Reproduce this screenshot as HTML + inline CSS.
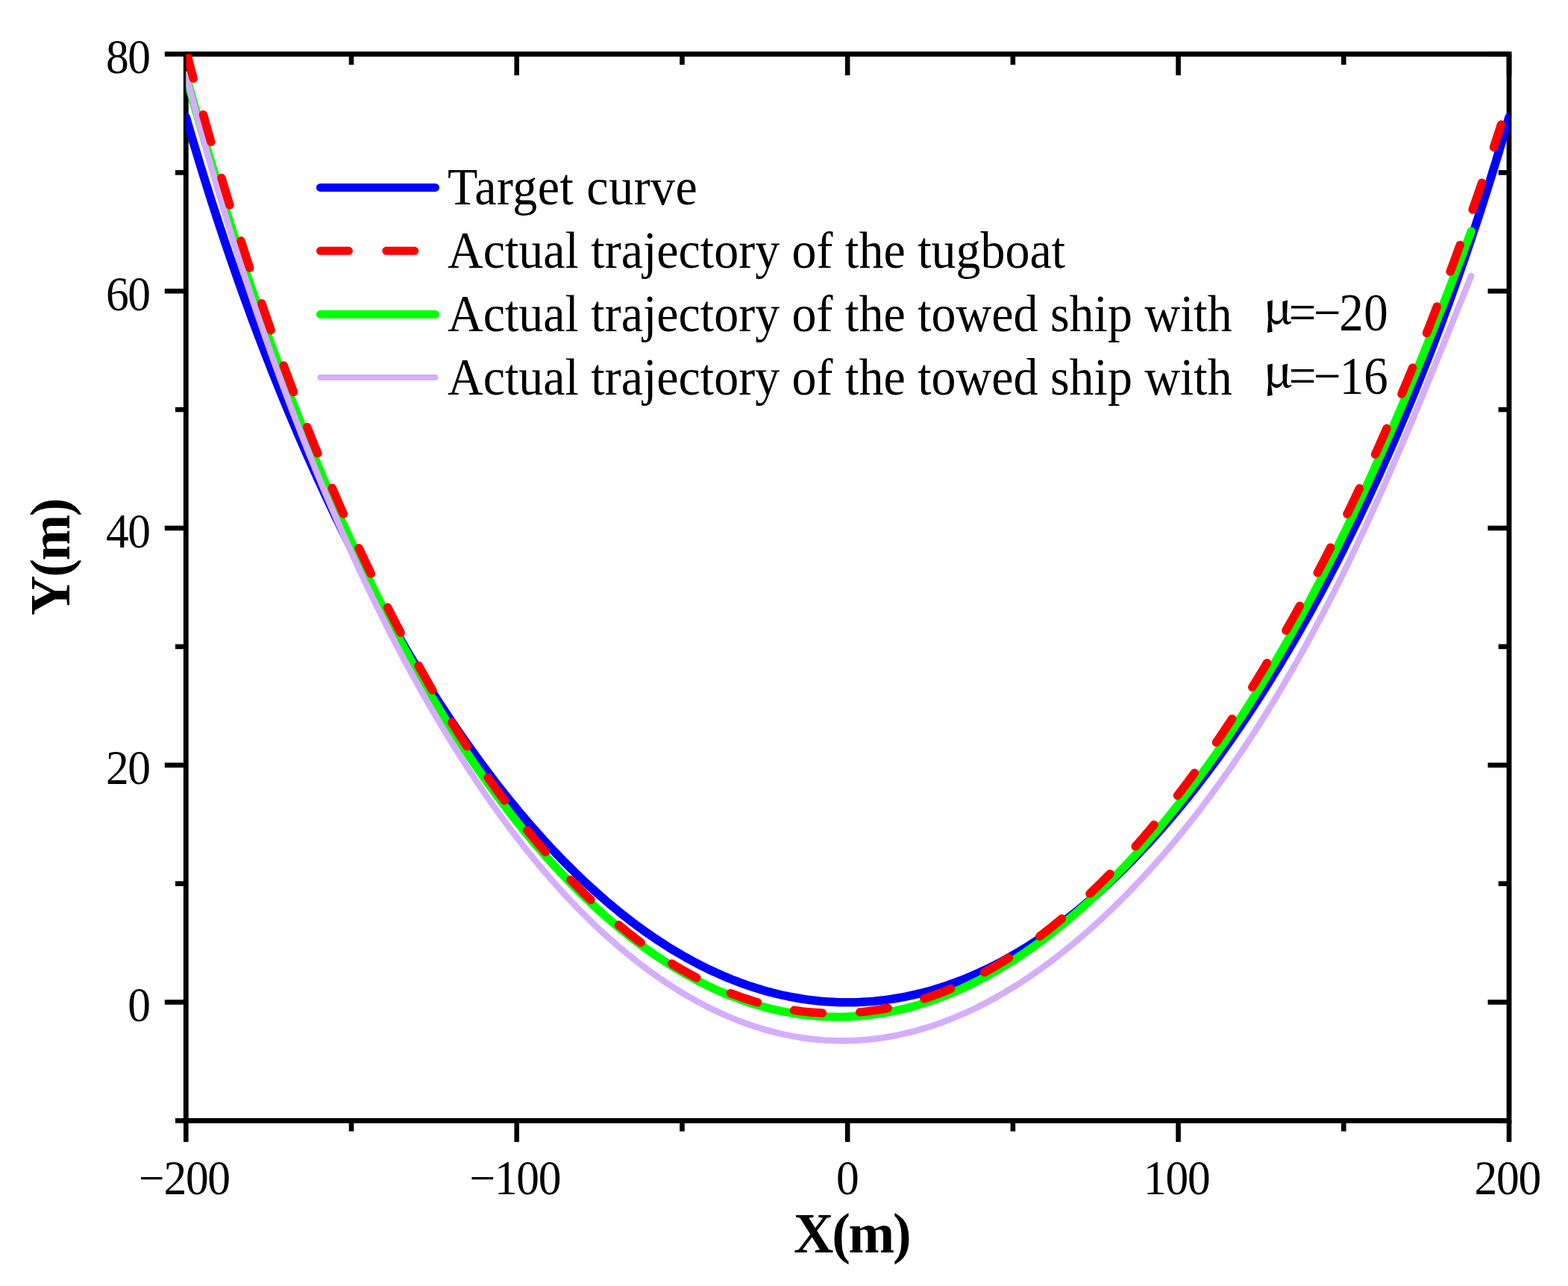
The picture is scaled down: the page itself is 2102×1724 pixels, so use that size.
<!DOCTYPE html><html><head><meta charset="utf-8"><style>html,body{margin:0;padding:0;background:#fff;overflow:hidden}svg{display:block}</style></head><body>
<svg width="2102" height="1724" viewBox="0 0 2102 1724">
<rect width="2102" height="1724" fill="#fff"/>
<defs><clipPath id="cp"><rect x="249.30" y="72.50" width="1773.72" height="1429.88"/></clipPath></defs>
<g stroke="#000" stroke-width="6.8" fill="none" stroke-linecap="square">
<rect x="249.30" y="72.50" width="1773.72" height="1429.88"/>
</g>
<g stroke="#000" stroke-width="6.6" fill="none">
<line x1="249.30" y1="1502.38" x2="249.30" y2="1530.88"/>
<line x1="249.30" y1="72.50" x2="249.30" y2="101.00"/>
<line x1="471.02" y1="1502.38" x2="471.02" y2="1516.67"/>
<line x1="471.02" y1="72.50" x2="471.02" y2="86.80"/>
<line x1="692.73" y1="1502.38" x2="692.73" y2="1530.88"/>
<line x1="692.73" y1="72.50" x2="692.73" y2="101.00"/>
<line x1="914.45" y1="1502.38" x2="914.45" y2="1516.67"/>
<line x1="914.45" y1="72.50" x2="914.45" y2="86.80"/>
<line x1="1136.16" y1="1502.38" x2="1136.16" y2="1530.88"/>
<line x1="1136.16" y1="72.50" x2="1136.16" y2="101.00"/>
<line x1="1357.88" y1="1502.38" x2="1357.88" y2="1516.67"/>
<line x1="1357.88" y1="72.50" x2="1357.88" y2="86.80"/>
<line x1="1579.59" y1="1502.38" x2="1579.59" y2="1530.88"/>
<line x1="1579.59" y1="72.50" x2="1579.59" y2="101.00"/>
<line x1="1801.31" y1="1502.38" x2="1801.31" y2="1516.67"/>
<line x1="1801.31" y1="72.50" x2="1801.31" y2="86.80"/>
<line x1="2023.02" y1="1502.38" x2="2023.02" y2="1530.88"/>
<line x1="2023.02" y1="72.50" x2="2023.02" y2="101.00"/>
<line x1="249.30" y1="1502.38" x2="235.00" y2="1502.38"/>
<line x1="2023.02" y1="1502.38" x2="2008.72" y2="1502.38"/>
<line x1="249.30" y1="1343.50" x2="220.80" y2="1343.50"/>
<line x1="2023.02" y1="1343.50" x2="1994.52" y2="1343.50"/>
<line x1="249.30" y1="1184.62" x2="235.00" y2="1184.62"/>
<line x1="2023.02" y1="1184.62" x2="2008.72" y2="1184.62"/>
<line x1="249.30" y1="1025.75" x2="220.80" y2="1025.75"/>
<line x1="2023.02" y1="1025.75" x2="1994.52" y2="1025.75"/>
<line x1="249.30" y1="866.88" x2="235.00" y2="866.88"/>
<line x1="2023.02" y1="866.88" x2="2008.72" y2="866.88"/>
<line x1="249.30" y1="708.00" x2="220.80" y2="708.00"/>
<line x1="2023.02" y1="708.00" x2="1994.52" y2="708.00"/>
<line x1="249.30" y1="549.12" x2="235.00" y2="549.12"/>
<line x1="2023.02" y1="549.12" x2="2008.72" y2="549.12"/>
<line x1="249.30" y1="390.25" x2="220.80" y2="390.25"/>
<line x1="2023.02" y1="390.25" x2="1994.52" y2="390.25"/>
<line x1="249.30" y1="231.38" x2="235.00" y2="231.38"/>
<line x1="2023.02" y1="231.38" x2="2008.72" y2="231.38"/>
<line x1="249.30" y1="72.50" x2="220.80" y2="72.50"/>
<line x1="2023.02" y1="72.50" x2="1994.52" y2="72.50"/>
</g>
<text transform="translate(246.95,1601) scale(1.0,1.048)" text-anchor="middle" font-family="Liberation Serif, Times New Roman, serif" font-size="61.5" letter-spacing="-1.3">−200</text>
<text transform="translate(690.38,1601) scale(1.0,1.048)" text-anchor="middle" font-family="Liberation Serif, Times New Roman, serif" font-size="61.5" letter-spacing="-1.3">−100</text>
<text transform="translate(1135.81,1601) scale(1.0,1.048)" text-anchor="middle" font-family="Liberation Serif, Times New Roman, serif" font-size="61.5" letter-spacing="-1.3">0</text>
<text transform="translate(1577.24,1601) scale(1.0,1.048)" text-anchor="middle" font-family="Liberation Serif, Times New Roman, serif" font-size="61.5" letter-spacing="-1.3">100</text>
<text transform="translate(2020.67,1601) scale(1.0,1.048)" text-anchor="middle" font-family="Liberation Serif, Times New Roman, serif" font-size="61.5" letter-spacing="-1.3">200</text>
<text transform="translate(200.80,1369.00) scale(1.0,1.048)" text-anchor="end" font-family="Liberation Serif, Times New Roman, serif" font-size="61.5" letter-spacing="-1.3">0</text>
<text transform="translate(200.80,1051.25) scale(1.0,1.048)" text-anchor="end" font-family="Liberation Serif, Times New Roman, serif" font-size="61.5" letter-spacing="-1.3">20</text>
<text transform="translate(200.80,733.50) scale(1.0,1.048)" text-anchor="end" font-family="Liberation Serif, Times New Roman, serif" font-size="61.5" letter-spacing="-1.3">40</text>
<text transform="translate(200.80,415.75) scale(1.0,1.048)" text-anchor="end" font-family="Liberation Serif, Times New Roman, serif" font-size="61.5" letter-spacing="-1.3">60</text>
<text transform="translate(200.80,98.00) scale(1.0,1.048)" text-anchor="end" font-family="Liberation Serif, Times New Roman, serif" font-size="61.5" letter-spacing="-1.3">80</text>
<text transform="translate(1141.7,1679) scale(1,1.02)" text-anchor="middle" font-family="Liberation Serif, Times New Roman, serif" font-weight="bold" font-size="74" letter-spacing="-2.3">X(m)</text>
<text transform="translate(93,747.4) rotate(-90) scale(1,1.02)" text-anchor="middle" font-family="Liberation Serif, Times New Roman, serif" font-weight="bold" font-size="74" letter-spacing="-2.3">Y(m)</text>
<g clip-path="url(#cp)" fill="none" stroke-linejoin="round">
<path d="M249.30,157.06 L253.75,172.30 L258.19,187.35 L262.64,202.20 L267.08,216.86 L271.53,231.33 L275.97,245.61 L280.42,259.71 L284.86,273.63 L289.31,287.38 L293.75,300.97 L298.20,314.38 L302.64,327.63 L307.09,340.73 L311.54,353.66 L315.98,366.45 L320.43,379.08 L324.87,391.57 L329.32,403.92 L333.76,416.12 L338.21,428.18 L342.65,440.11 L347.10,451.91 L351.54,463.57 L355.99,475.11 L360.44,486.52 L364.88,497.81 L369.33,508.98 L373.77,520.03 L378.22,530.96 L382.66,541.77 L387.11,552.47 L391.55,563.07 L396.00,573.55 L400.44,583.92 L404.89,594.19 L409.33,604.36 L413.78,614.42 L418.23,624.38 L422.67,634.24 L427.12,644.00 L431.56,653.67 L436.01,663.24 L440.45,672.72 L444.90,682.11 L449.34,691.40 L453.79,700.61 L458.23,709.72 L462.68,718.75 L467.13,727.69 L471.57,736.55 L476.02,745.32 L480.46,754.01 L484.91,762.61 L489.35,771.13 L493.80,779.58 L498.24,787.94 L502.69,796.22 L507.13,804.43 L511.58,812.55 L516.02,820.60 L520.47,828.58 L524.92,836.48 L529.36,844.30 L533.81,852.05 L538.25,859.73 L542.70,867.33 L547.14,874.87 L551.59,882.33 L556.03,889.72 L560.48,897.04 L564.92,904.28 L569.37,911.46 L573.82,918.57 L578.26,925.62 L582.71,932.59 L587.15,939.50 L591.60,946.33 L596.04,953.11 L600.49,959.81 L604.93,966.45 L609.38,973.02 L613.82,979.53 L618.27,985.98 L622.71,992.35 L627.16,998.67 L631.61,1004.92 L636.05,1011.11 L640.50,1017.23 L644.94,1023.29 L649.39,1029.28 L653.83,1035.22 L658.28,1041.09 L662.72,1046.90 L667.17,1052.65 L671.61,1058.34 L676.06,1063.96 L680.51,1069.53 L684.95,1075.03 L689.40,1080.47 L693.84,1085.85 L698.29,1091.18 L702.73,1096.44 L707.18,1101.64 L711.62,1106.78 L716.07,1111.86 L720.51,1116.89 L724.96,1121.85 L729.40,1126.76 L733.85,1131.60 L738.30,1136.39 L742.74,1141.12 L747.19,1145.79 L751.63,1150.41 L756.08,1154.96 L760.52,1159.46 L764.97,1163.90 L769.41,1168.28 L773.86,1172.61 L778.30,1176.88 L782.75,1181.09 L787.20,1185.25 L791.64,1189.34 L796.09,1193.38 L800.53,1197.37 L804.98,1201.30 L809.42,1205.17 L813.87,1208.99 L818.31,1212.75 L822.76,1216.45 L827.20,1220.10 L831.65,1223.70 L836.09,1227.24 L840.54,1230.72 L844.99,1234.15 L849.43,1237.52 L853.88,1240.84 L858.32,1244.11 L862.77,1247.31 L867.21,1250.47 L871.66,1253.57 L876.10,1256.62 L880.55,1259.61 L884.99,1262.55 L889.44,1265.43 L893.88,1268.26 L898.33,1271.04 L902.78,1273.76 L907.22,1276.43 L911.67,1279.05 L916.11,1281.61 L920.56,1284.12 L925.00,1286.58 L929.45,1288.99 L933.89,1291.34 L938.34,1293.64 L942.78,1295.88 L947.23,1298.08 L951.68,1300.22 L956.12,1302.31 L960.57,1304.34 L965.01,1306.33 L969.46,1308.26 L973.90,1310.14 L978.35,1311.97 L982.79,1313.75 L987.24,1315.47 L991.68,1317.15 L996.13,1318.77 L1000.57,1320.34 L1005.02,1321.86 L1009.47,1323.33 L1013.91,1324.74 L1018.36,1326.11 L1022.80,1327.42 L1027.25,1328.69 L1031.69,1329.90 L1036.14,1331.06 L1040.58,1332.17 L1045.03,1333.23 L1049.47,1334.24 L1053.92,1335.20 L1058.37,1336.10 L1062.81,1336.96 L1067.26,1337.77 L1071.70,1338.52 L1076.15,1339.23 L1080.59,1339.88 L1085.04,1340.48 L1089.48,1341.04 L1093.93,1341.54 L1098.37,1341.99 L1102.82,1342.40 L1107.26,1342.75 L1111.71,1343.05 L1116.16,1343.30 L1120.60,1343.50 L1125.05,1343.65 L1129.49,1343.75 L1133.94,1343.80 L1138.38,1343.80 L1142.83,1343.75 L1147.27,1343.65 L1151.72,1343.50 L1156.16,1343.30 L1160.61,1343.05 L1165.06,1342.75 L1169.50,1342.40 L1173.95,1341.99 L1178.39,1341.54 L1182.84,1341.04 L1187.28,1340.48 L1191.73,1339.88 L1196.17,1339.23 L1200.62,1338.52 L1205.06,1337.77 L1209.51,1336.96 L1213.95,1336.10 L1218.40,1335.20 L1222.85,1334.24 L1227.29,1333.23 L1231.74,1332.17 L1236.18,1331.06 L1240.63,1329.90 L1245.07,1328.69 L1249.52,1327.42 L1253.96,1326.11 L1258.41,1324.74 L1262.85,1323.33 L1267.30,1321.86 L1271.75,1320.34 L1276.19,1318.77 L1280.64,1317.15 L1285.08,1315.47 L1289.53,1313.75 L1293.97,1311.97 L1298.42,1310.14 L1302.86,1308.26 L1307.31,1306.33 L1311.75,1304.34 L1316.20,1302.31 L1320.64,1300.22 L1325.09,1298.08 L1329.54,1295.88 L1333.98,1293.64 L1338.43,1291.34 L1342.87,1288.99 L1347.32,1286.58 L1351.76,1284.12 L1356.21,1281.61 L1360.65,1279.05 L1365.10,1276.43 L1369.54,1273.76 L1373.99,1271.04 L1378.44,1268.26 L1382.88,1265.43 L1387.33,1262.55 L1391.77,1259.61 L1396.22,1256.62 L1400.66,1253.57 L1405.11,1250.47 L1409.55,1247.31 L1414.00,1244.11 L1418.44,1240.84 L1422.89,1237.52 L1427.33,1234.15 L1431.78,1230.72 L1436.23,1227.24 L1440.67,1223.70 L1445.12,1220.10 L1449.56,1216.45 L1454.01,1212.75 L1458.45,1208.99 L1462.90,1205.17 L1467.34,1201.30 L1471.79,1197.37 L1476.23,1193.38 L1480.68,1189.34 L1485.12,1185.25 L1489.57,1181.09 L1494.02,1176.88 L1498.46,1172.61 L1502.91,1168.28 L1507.35,1163.90 L1511.80,1159.46 L1516.24,1154.96 L1520.69,1150.41 L1525.13,1145.79 L1529.58,1141.12 L1534.02,1136.39 L1538.47,1131.60 L1542.92,1126.76 L1547.36,1121.85 L1551.81,1116.89 L1556.25,1111.86 L1560.70,1106.78 L1565.14,1101.64 L1569.59,1096.44 L1574.03,1091.18 L1578.48,1085.85 L1582.92,1080.47 L1587.37,1075.03 L1591.81,1069.53 L1596.26,1063.96 L1600.71,1058.34 L1605.15,1052.65 L1609.60,1046.90 L1614.04,1041.09 L1618.49,1035.22 L1622.93,1029.28 L1627.38,1023.29 L1631.82,1017.23 L1636.27,1011.11 L1640.71,1004.92 L1645.16,998.67 L1649.61,992.35 L1654.05,985.98 L1658.50,979.53 L1662.94,973.02 L1667.39,966.45 L1671.83,959.81 L1676.28,953.11 L1680.72,946.33 L1685.17,939.50 L1689.61,932.59 L1694.06,925.62 L1698.50,918.57 L1702.95,911.46 L1707.40,904.28 L1711.84,897.04 L1716.29,889.72 L1720.73,882.33 L1725.18,874.87 L1729.62,867.33 L1734.07,859.73 L1738.51,852.05 L1742.96,844.30 L1747.40,836.48 L1751.85,828.58 L1756.30,820.60 L1760.74,812.55 L1765.19,804.43 L1769.63,796.22 L1774.08,787.94 L1778.52,779.58 L1782.97,771.13 L1787.41,762.61 L1791.86,754.01 L1796.30,745.32 L1800.75,736.55 L1805.19,727.69 L1809.64,718.75 L1814.09,709.72 L1818.53,700.61 L1822.98,691.40 L1827.42,682.11 L1831.87,672.72 L1836.31,663.24 L1840.76,653.67 L1845.20,644.00 L1849.65,634.24 L1854.09,624.38 L1858.54,614.42 L1862.99,604.36 L1867.43,594.19 L1871.88,583.92 L1876.32,573.55 L1880.77,563.07 L1885.21,552.47 L1889.66,541.77 L1894.10,530.96 L1898.55,520.03 L1902.99,508.98 L1907.44,497.81 L1911.88,486.52 L1916.33,475.11 L1920.78,463.57 L1925.22,451.91 L1929.67,440.11 L1934.11,428.18 L1938.56,416.12 L1943.00,403.92 L1947.45,391.57 L1951.89,379.08 L1956.34,366.45 L1960.78,353.66 L1965.23,340.73 L1969.68,327.63 L1974.12,314.38 L1978.57,300.97 L1983.01,287.38 L1987.46,273.63 L1991.90,259.71 L1996.35,245.61 L2000.79,231.33 L2005.24,216.86 L2009.68,202.20 L2014.13,187.35 L2018.57,172.30 L2023.02,157.06" stroke="#0000ff" stroke-width="11.5" stroke-linecap="round"/>
<path d="M249.30,101.47 L253.62,116.78 L257.94,131.95 L262.25,146.98 L266.57,161.87 L270.89,176.62 L275.21,191.24 L279.53,205.71 L283.85,220.05 L288.16,234.26 L292.48,248.33 L296.80,262.27 L301.12,276.08 L305.44,289.76 L309.75,303.31 L314.07,316.73 L318.39,330.03 L322.71,343.20 L327.03,356.24 L331.35,369.17 L335.66,381.97 L339.98,394.65 L344.30,407.20 L348.62,419.64 L352.94,431.97 L357.25,444.17 L361.57,456.26 L365.89,468.23 L370.21,480.09 L374.53,491.83 L378.84,503.46 L383.16,514.99 L387.48,526.40 L391.80,537.70 L396.12,548.89 L400.44,559.97 L404.75,570.95 L409.07,581.82 L413.39,592.59 L417.71,603.25 L422.03,613.81 L426.34,624.26 L430.66,634.62 L434.98,644.87 L439.30,655.02 L443.62,665.08 L447.94,675.03 L452.25,684.89 L456.57,694.65 L460.89,704.32 L465.21,713.89 L469.53,723.36 L473.84,732.74 L478.16,742.03 L482.48,751.23 L486.80,760.34 L491.12,769.35 L495.44,778.28 L499.75,787.12 L504.07,795.87 L508.39,804.53 L512.71,813.10 L517.03,821.59 L521.34,829.99 L525.66,838.31 L529.98,846.54 L534.30,854.69 L538.62,862.76 L542.94,870.74 L547.25,878.65 L551.57,886.47 L555.89,894.21 L560.21,901.87 L564.53,909.46 L568.84,916.96 L573.16,924.39 L577.48,931.74 L581.80,939.01 L586.12,946.21 L590.43,953.33 L594.75,960.38 L599.07,967.35 L603.39,974.25 L607.71,981.08 L612.03,987.83 L616.34,994.51 L620.66,1001.12 L624.98,1007.66 L629.30,1014.12 L633.62,1020.52 L637.93,1026.85 L642.25,1033.10 L646.57,1039.29 L650.89,1045.41 L655.21,1051.47 L659.53,1057.45 L663.84,1063.37 L668.16,1069.22 L672.48,1075.01 L676.80,1080.73 L681.12,1086.38 L685.43,1091.97 L689.75,1097.49 L694.07,1102.95 L698.39,1108.35 L702.71,1113.69 L707.03,1118.96 L711.34,1124.16 L715.66,1129.31 L719.98,1134.39 L724.30,1139.41 L728.62,1144.37 L732.93,1149.27 L737.25,1154.11 L741.57,1158.89 L745.89,1163.61 L750.21,1168.26 L754.53,1172.86 L758.84,1177.40 L763.16,1181.88 L767.48,1186.30 L771.80,1190.66 L776.12,1194.97 L780.43,1199.21 L784.75,1203.40 L789.07,1207.53 L793.39,1211.61 L797.71,1215.62 L802.02,1219.58 L806.34,1223.48 L810.66,1227.33 L814.98,1231.12 L819.30,1234.85 L823.62,1238.53 L827.93,1242.15 L832.25,1245.72 L836.57,1249.23 L840.89,1252.69 L845.21,1256.09 L849.52,1259.43 L853.84,1262.72 L858.16,1265.96 L862.48,1269.14 L866.80,1272.27 L871.12,1275.34 L875.43,1278.36 L879.75,1281.32 L884.07,1284.23 L888.39,1287.09 L892.71,1289.89 L897.02,1292.64 L901.34,1295.34 L905.66,1297.98 L909.98,1300.57 L914.30,1303.10 L918.62,1305.59 L922.93,1308.01 L927.25,1310.39 L931.57,1312.71 L935.89,1314.99 L940.21,1317.20 L944.52,1319.37 L948.84,1321.48 L953.16,1323.54 L957.48,1325.55 L961.80,1327.50 L966.12,1329.40 L970.43,1331.25 L974.75,1333.05 L979.07,1334.80 L983.39,1336.49 L987.71,1338.13 L992.02,1339.72 L996.34,1341.25 L1000.66,1342.74 L1004.98,1344.17 L1009.30,1345.55 L1013.61,1346.88 L1017.93,1348.15 L1022.25,1349.38 L1026.57,1350.55 L1030.89,1351.67 L1035.21,1352.74 L1039.52,1353.76 L1043.84,1354.72 L1048.16,1355.63 L1052.48,1356.49 L1056.80,1357.30 L1061.11,1358.06 L1065.43,1358.77 L1069.75,1359.42 L1074.07,1360.03 L1078.39,1360.58 L1082.71,1361.08 L1087.02,1361.52 L1091.34,1361.92 L1095.66,1362.27 L1099.98,1362.56 L1104.30,1362.80 L1108.61,1362.99 L1112.93,1363.13 L1117.25,1363.22 L1121.57,1363.26 L1125.89,1363.24 L1130.21,1363.17 L1134.52,1363.06 L1138.84,1362.89 L1143.16,1362.67 L1147.48,1362.40 L1151.80,1362.07 L1156.11,1361.70 L1160.43,1361.27 L1164.75,1360.80 L1169.07,1360.27 L1173.39,1359.69 L1177.71,1359.06 L1182.02,1358.38 L1186.34,1357.65 L1190.66,1356.87 L1194.98,1356.03 L1199.30,1355.15 L1203.61,1354.22 L1207.93,1353.23 L1212.25,1352.19 L1216.57,1351.11 L1220.89,1349.97 L1225.20,1348.78 L1229.52,1347.54 L1233.84,1346.25 L1238.16,1344.91 L1242.48,1343.52 L1246.80,1342.07 L1251.11,1340.58 L1255.43,1339.04 L1259.75,1337.44 L1264.07,1335.80 L1268.39,1334.11 L1272.70,1332.36 L1277.02,1330.57 L1281.34,1328.72 L1285.66,1326.82 L1289.98,1324.88 L1294.30,1322.88 L1298.61,1320.83 L1302.93,1318.74 L1307.25,1316.59 L1311.57,1314.39 L1315.89,1312.14 L1320.20,1309.85 L1324.52,1307.50 L1328.84,1305.10 L1333.16,1302.65 L1337.48,1300.15 L1341.80,1297.61 L1346.11,1295.01 L1350.43,1292.36 L1354.75,1289.66 L1359.07,1286.91 L1363.39,1284.11 L1367.70,1281.26 L1372.02,1278.37 L1376.34,1275.42 L1380.66,1272.42 L1384.98,1269.37 L1389.30,1266.27 L1393.61,1263.12 L1397.93,1259.92 L1402.25,1256.67 L1406.57,1253.37 L1410.89,1250.01 L1415.20,1246.61 L1419.52,1243.16 L1423.84,1239.66 L1428.16,1236.10 L1432.48,1232.50 L1436.79,1228.84 L1441.11,1225.14 L1445.43,1221.38 L1449.75,1217.57 L1454.07,1213.71 L1458.39,1209.80 L1462.70,1205.84 L1467.02,1201.83 L1471.34,1197.76 L1475.66,1193.65 L1479.98,1189.48 L1484.29,1185.26 L1488.61,1180.99 L1492.93,1176.66 L1497.25,1172.28 L1501.57,1167.85 L1505.89,1163.37 L1510.20,1158.84 L1514.52,1154.25 L1518.84,1149.61 L1523.16,1144.91 L1527.48,1140.16 L1531.79,1135.36 L1536.11,1130.51 L1540.43,1125.59 L1544.75,1120.63 L1549.07,1115.61 L1553.39,1110.53 L1557.70,1105.40 L1562.02,1100.22 L1566.34,1094.98 L1570.66,1089.68 L1574.98,1084.32 L1579.29,1078.91 L1583.61,1073.45 L1587.93,1067.92 L1592.25,1062.34 L1596.57,1056.70 L1600.89,1051.00 L1605.20,1045.24 L1609.52,1039.43 L1613.84,1033.55 L1618.16,1027.62 L1622.48,1021.63 L1626.79,1015.57 L1631.11,1009.46 L1635.43,1003.28 L1639.75,997.05 L1644.07,990.75 L1648.38,984.39 L1652.70,977.96 L1657.02,971.48 L1661.34,964.93 L1665.66,958.32 L1669.98,951.64 L1674.29,944.90 L1678.61,938.10 L1682.93,931.23 L1687.25,924.29 L1691.57,917.29 L1695.88,910.22 L1700.20,903.09 L1704.52,895.89 L1708.84,888.62 L1713.16,881.28 L1717.48,873.87 L1721.79,866.40 L1726.11,858.86 L1730.43,851.24 L1734.75,843.56 L1739.07,835.81 L1743.38,827.98 L1747.70,820.09 L1752.02,812.12 L1756.34,804.09 L1760.66,795.98 L1764.98,787.80 L1769.29,779.54 L1773.61,771.22 L1777.93,762.82 L1782.25,754.34 L1786.57,745.80 L1790.88,737.18 L1795.20,728.48 L1799.52,719.71 L1803.84,710.87 L1808.16,701.95 L1812.48,692.96 L1816.79,683.89 L1821.11,674.75 L1825.43,665.53 L1829.75,656.24 L1834.07,646.87 L1838.38,637.43 L1842.70,627.91 L1847.02,618.32 L1851.34,608.66 L1855.66,598.92 L1859.98,589.10 L1864.29,579.21 L1868.61,569.25 L1872.93,559.22 L1877.25,549.11 L1881.57,538.93 L1885.88,528.68 L1890.20,518.36 L1894.52,507.96 L1898.84,497.50 L1903.16,486.97 L1907.47,476.37 L1911.79,465.70 L1916.11,454.96 L1920.43,444.16 L1924.75,433.30 L1929.07,422.37 L1933.38,411.38 L1937.70,400.33 L1942.02,389.22 L1946.34,378.05 L1950.66,366.83 L1954.97,355.55 L1959.29,344.22 L1963.61,332.84 L1967.93,321.41 L1972.25,309.93" stroke="#00ff00" stroke-width="11.2" stroke-linecap="round"/>
<path d="M249.30,99.45 L253.62,116.10 L257.94,132.50 L262.25,148.67 L266.57,164.61 L270.89,180.33 L275.21,195.84 L279.53,211.14 L283.85,226.24 L288.16,241.14 L292.48,255.85 L296.80,270.38 L301.12,284.72 L305.44,298.88 L309.75,312.88 L314.07,326.70 L318.39,340.36 L322.71,353.86 L327.03,367.20 L331.35,380.39 L335.66,393.43 L339.98,406.32 L344.30,419.07 L348.62,431.68 L352.94,444.16 L357.25,456.50 L361.57,468.71 L365.89,480.79 L370.21,492.74 L374.53,504.57 L378.84,516.28 L383.16,527.87 L387.48,539.34 L391.80,550.69 L396.12,561.94 L400.44,573.07 L404.75,584.09 L409.07,595.00 L413.39,605.81 L417.71,616.51 L422.03,627.11 L426.34,637.61 L430.66,648.00 L434.98,658.30 L439.30,668.50 L443.62,678.60 L447.94,688.61 L452.25,698.52 L456.57,708.34 L460.89,718.06 L465.21,727.70 L469.53,737.24 L473.84,746.69 L478.16,756.06 L482.48,765.34 L486.80,774.53 L491.12,783.63 L495.44,792.65 L499.75,801.58 L504.07,810.43 L508.39,819.20 L512.71,827.88 L517.03,836.48 L521.34,845.00 L525.66,853.44 L529.98,861.80 L534.30,870.08 L538.62,878.28 L542.94,886.40 L547.25,894.44 L551.57,902.40 L555.89,910.29 L560.21,918.10 L564.53,925.83 L568.84,933.49 L573.16,941.07 L577.48,948.58 L581.80,956.01 L586.12,963.37 L590.43,970.65 L594.75,977.86 L599.07,985.00 L603.39,992.07 L607.71,999.06 L612.03,1005.98 L616.34,1012.83 L620.66,1019.61 L624.98,1026.32 L629.30,1032.96 L633.62,1039.52 L637.93,1046.02 L642.25,1052.45 L646.57,1058.81 L650.89,1065.10 L655.21,1071.33 L659.53,1077.48 L663.84,1083.57 L668.16,1089.59 L672.48,1095.54 L676.80,1101.43 L681.12,1107.25 L685.43,1113.00 L689.75,1118.69 L694.07,1124.31 L698.39,1129.87 L702.71,1135.36 L707.03,1140.79 L711.34,1146.16 L715.66,1151.46 L719.98,1156.70 L724.30,1161.87 L728.62,1166.98 L732.93,1172.03 L737.25,1177.02 L741.57,1181.94 L745.89,1186.80 L750.21,1191.60 L754.53,1196.34 L758.84,1201.02 L763.16,1205.64 L767.48,1210.20 L771.80,1214.69 L776.12,1219.13 L780.43,1223.51 L784.75,1227.83 L789.07,1232.09 L793.39,1236.29 L797.71,1240.43 L802.02,1244.51 L806.34,1248.54 L810.66,1252.50 L814.98,1256.41 L819.30,1260.26 L823.62,1264.06 L827.93,1267.79 L832.25,1271.47 L836.57,1275.10 L840.89,1278.66 L845.21,1282.17 L849.52,1285.63 L853.84,1289.03 L858.16,1292.37 L862.48,1295.66 L866.80,1298.89 L871.12,1302.06 L875.43,1305.18 L879.75,1308.25 L884.07,1311.26 L888.39,1314.22 L892.71,1317.12 L897.02,1319.97 L901.34,1322.76 L905.66,1325.50 L909.98,1328.18 L914.30,1330.81 L918.62,1333.39 L922.93,1335.92 L927.25,1338.39 L931.57,1340.80 L935.89,1343.17 L940.21,1345.48 L944.52,1347.73 L948.84,1349.94 L953.16,1352.09 L957.48,1354.19 L961.80,1356.23 L966.12,1358.22 L970.43,1360.16 L974.75,1362.05 L979.07,1363.88 L983.39,1365.67 L987.71,1367.39 L992.02,1369.07 L996.34,1370.70 L1000.66,1372.27 L1004.98,1373.79 L1009.30,1375.26 L1013.61,1376.67 L1017.93,1378.03 L1022.25,1379.35 L1026.57,1380.60 L1030.89,1381.81 L1035.21,1382.97 L1039.52,1384.07 L1043.84,1385.12 L1048.16,1386.12 L1052.48,1387.06 L1056.80,1387.96 L1061.11,1388.80 L1065.43,1389.59 L1069.75,1390.33 L1074.07,1391.02 L1078.39,1391.66 L1082.71,1392.24 L1087.02,1392.77 L1091.34,1393.25 L1095.66,1393.68 L1099.98,1394.05 L1104.30,1394.38 L1108.61,1394.65 L1112.93,1394.87 L1117.25,1395.04 L1121.57,1395.16 L1125.89,1395.22 L1130.21,1395.24 L1134.52,1395.20 L1138.84,1395.11 L1143.16,1394.97 L1147.48,1394.78 L1151.80,1394.53 L1156.11,1394.24 L1160.43,1393.89 L1164.75,1393.49 L1169.07,1393.04 L1173.39,1392.54 L1177.71,1391.99 L1182.02,1391.38 L1186.34,1390.73 L1190.66,1390.02 L1194.98,1389.26 L1199.30,1388.45 L1203.61,1387.59 L1207.93,1386.68 L1212.25,1385.71 L1216.57,1384.70 L1220.89,1383.64 L1225.20,1382.52 L1229.52,1381.35 L1233.84,1380.13 L1238.16,1378.87 L1242.48,1377.55 L1246.80,1376.18 L1251.11,1374.75 L1255.43,1373.28 L1259.75,1371.76 L1264.07,1370.19 L1268.39,1368.57 L1272.70,1366.89 L1277.02,1365.17 L1281.34,1363.40 L1285.66,1361.58 L1289.98,1359.70 L1294.30,1357.78 L1298.61,1355.81 L1302.93,1353.78 L1307.25,1351.71 L1311.57,1349.59 L1315.89,1347.42 L1320.20,1345.20 L1324.52,1342.93 L1328.84,1340.61 L1333.16,1338.24 L1337.48,1335.82 L1341.80,1333.35 L1346.11,1330.84 L1350.43,1328.27 L1354.75,1325.66 L1359.07,1322.99 L1363.39,1320.28 L1367.70,1317.52 L1372.02,1314.71 L1376.34,1311.86 L1380.66,1308.95 L1384.98,1306.00 L1389.30,1302.99 L1393.61,1299.94 L1397.93,1296.84 L1402.25,1293.69 L1406.57,1290.50 L1410.89,1287.25 L1415.20,1283.96 L1419.52,1280.61 L1423.84,1277.22 L1428.16,1273.79 L1432.48,1270.30 L1436.79,1266.76 L1441.11,1263.18 L1445.43,1259.55 L1449.75,1255.87 L1454.07,1252.14 L1458.39,1248.36 L1462.70,1244.53 L1467.02,1240.66 L1471.34,1236.73 L1475.66,1232.76 L1479.98,1228.74 L1484.29,1224.66 L1488.61,1220.54 L1492.93,1216.37 L1497.25,1212.15 L1501.57,1207.88 L1505.89,1203.56 L1510.20,1199.19 L1514.52,1194.77 L1518.84,1190.30 L1523.16,1185.77 L1527.48,1181.20 L1531.79,1176.57 L1536.11,1171.90 L1540.43,1167.17 L1544.75,1162.39 L1549.07,1157.55 L1553.39,1152.67 L1557.70,1147.73 L1562.02,1142.74 L1566.34,1137.69 L1570.66,1132.59 L1574.98,1127.43 L1579.29,1122.22 L1583.61,1116.95 L1587.93,1111.63 L1592.25,1106.25 L1596.57,1100.81 L1600.89,1095.32 L1605.20,1089.77 L1609.52,1084.16 L1613.84,1078.49 L1618.16,1072.76 L1622.48,1066.98 L1626.79,1061.13 L1631.11,1055.22 L1635.43,1049.25 L1639.75,1043.22 L1644.07,1037.12 L1648.38,1030.97 L1652.70,1024.74 L1657.02,1018.46 L1661.34,1012.11 L1665.66,1005.69 L1669.98,999.21 L1674.29,992.66 L1678.61,986.04 L1682.93,979.35 L1687.25,972.60 L1691.57,965.78 L1695.88,958.88 L1700.20,951.92 L1704.52,944.88 L1708.84,937.78 L1713.16,930.60 L1717.48,923.34 L1721.79,916.02 L1726.11,908.62 L1730.43,901.14 L1734.75,893.60 L1739.07,885.97 L1743.38,878.27 L1747.70,870.49 L1752.02,862.64 L1756.34,854.70 L1760.66,846.70 L1764.98,838.61 L1769.29,830.44 L1773.61,822.20 L1777.93,813.87 L1782.25,805.47 L1786.57,796.99 L1790.88,788.43 L1795.20,779.79 L1799.52,771.07 L1803.84,762.27 L1808.16,753.39 L1812.48,744.43 L1816.79,735.40 L1821.11,726.29 L1825.43,717.10 L1829.75,707.83 L1834.07,698.49 L1838.38,689.07 L1842.70,679.57 L1847.02,670.01 L1851.34,660.37 L1855.66,650.65 L1859.98,640.87 L1864.29,631.02 L1868.61,621.10 L1872.93,611.12 L1877.25,601.07 L1881.57,590.96 L1885.88,580.79 L1890.20,570.56 L1894.52,560.28 L1898.84,549.95 L1903.16,539.57 L1907.47,529.14 L1911.79,518.66 L1916.11,508.15 L1920.43,497.60 L1924.75,487.02 L1929.07,476.41 L1933.38,465.78 L1937.70,455.13 L1942.02,444.47 L1946.34,433.79 L1950.66,423.11 L1954.97,412.44 L1959.29,401.77 L1963.61,391.12 L1967.93,380.48 L1972.25,369.88" stroke="#d5aefb" stroke-width="8.5" stroke-linecap="round"/>
<path d="M249.30,67.72 L253.72,84.52 L258.14,101.11 L262.56,117.50 L266.97,133.68 L271.39,149.66 L275.81,165.45 L280.23,181.05 L284.65,196.46 L289.07,211.68 L293.49,226.73 L297.91,241.60 L302.32,256.30 L306.74,270.82 L311.16,285.18 L315.58,299.38 L320.00,313.41 L324.42,327.28 L328.84,341.00 L333.26,354.57 L337.67,367.99 L342.09,381.25 L346.51,394.38 L350.93,407.36 L355.35,420.20 L359.77,432.90 L364.19,445.46 L368.61,457.89 L373.02,470.19 L377.44,482.36 L381.86,494.40 L386.28,506.32 L390.70,518.11 L395.12,529.78 L399.54,541.33 L403.96,552.76 L408.37,564.07 L412.79,575.26 L417.21,586.35 L421.63,597.31 L426.05,608.17 L430.47,618.92 L434.89,629.56 L439.31,640.09 L443.72,650.52 L448.14,660.84 L452.56,671.06 L456.98,681.18 L461.40,691.20 L465.82,701.11 L470.24,710.93 L474.66,720.65 L479.07,730.27 L483.49,739.80 L487.91,749.23 L492.33,758.57 L496.75,767.82 L501.17,776.97 L505.59,786.04 L510.01,795.01 L514.42,803.89 L518.84,812.69 L523.26,821.39 L527.68,830.01 L532.10,838.55 L536.52,846.99 L540.94,855.36 L545.36,863.63 L549.77,871.83 L554.19,879.94 L558.61,887.97 L563.03,895.91 L567.45,903.78 L571.87,911.56 L576.29,919.27 L580.71,926.89 L585.12,934.44 L589.54,941.90 L593.96,949.29 L598.38,956.60 L602.80,963.83 L607.22,970.99 L611.64,978.07 L616.06,985.08 L620.47,992.01 L624.89,998.86 L629.31,1005.64 L633.73,1012.35 L638.15,1018.98 L642.57,1025.54 L646.99,1032.02 L651.41,1038.43 L655.82,1044.78 L660.24,1051.04 L664.66,1057.24 L669.08,1063.37 L673.50,1069.42 L677.92,1075.41 L682.34,1081.32 L686.76,1087.17 L691.17,1092.94 L695.59,1098.65 L700.01,1104.28 L704.43,1109.85 L708.85,1115.35 L713.27,1120.78 L717.69,1126.15 L722.11,1131.44 L726.52,1136.67 L730.94,1141.84 L735.36,1146.93 L739.78,1151.96 L744.20,1156.92 L748.62,1161.82 L753.04,1166.65 L757.46,1171.42 L761.87,1176.12 L766.29,1180.76 L770.71,1185.33 L775.13,1189.83 L779.55,1194.28 L783.97,1198.66 L788.39,1202.97 L792.81,1207.22 L797.22,1211.41 L801.64,1215.54 L806.06,1219.60 L810.48,1223.60 L814.90,1227.54 L819.32,1231.41 L823.74,1235.23 L828.16,1238.98 L832.57,1242.67 L836.99,1246.30 L841.41,1249.86 L845.83,1253.37 L850.25,1256.82 L854.67,1260.20 L859.09,1263.53 L863.51,1266.79 L867.92,1270.00 L872.34,1273.14 L876.76,1276.23 L881.18,1279.25 L885.60,1282.22 L890.02,1285.13 L894.44,1287.98 L898.85,1290.76 L903.27,1293.50 L907.69,1296.17 L912.11,1298.78 L916.53,1301.34 L920.95,1303.84 L925.37,1306.28 L929.79,1308.66 L934.20,1310.99 L938.62,1313.26 L943.04,1315.47 L947.46,1317.62 L951.88,1319.72 L956.30,1321.76 L960.72,1323.74 L965.14,1325.67 L969.55,1327.54 L973.97,1329.36 L978.39,1331.11 L982.81,1332.82 L987.23,1334.46 L991.65,1336.06 L996.07,1337.59 L1000.49,1339.07 L1004.90,1340.50 L1009.32,1341.87 L1013.74,1343.18 L1018.16,1344.44 L1022.58,1345.64 L1027.00,1346.79 L1031.42,1347.89 L1035.84,1348.93 L1040.25,1349.91 L1044.67,1350.84 L1049.09,1351.72 L1053.51,1352.54 L1057.93,1353.31 L1062.35,1354.02 L1066.77,1354.68 L1071.19,1355.29 L1075.60,1355.84 L1080.02,1356.34 L1084.44,1356.78 L1088.86,1357.17 L1093.28,1357.51 L1097.70,1357.79 L1102.12,1358.02 L1106.54,1358.20 L1110.95,1358.32 L1115.37,1358.39 L1119.79,1358.40 L1124.21,1358.37 L1128.63,1358.27 L1133.05,1358.13 L1137.47,1357.93 L1141.89,1357.68 L1146.30,1357.38 L1150.72,1357.02 L1155.14,1356.61 L1159.56,1356.14 L1163.98,1355.63 L1168.40,1355.06 L1172.82,1354.43 L1177.24,1353.76 L1181.65,1353.03 L1186.07,1352.25 L1190.49,1351.41 L1194.91,1350.52 L1199.33,1349.58 L1203.75,1348.59 L1208.17,1347.54 L1212.59,1346.44 L1217.00,1345.28 L1221.42,1344.07 L1225.84,1342.81 L1230.26,1341.50 L1234.68,1340.13 L1239.10,1338.71 L1243.52,1337.24 L1247.94,1335.71 L1252.35,1334.14 L1256.77,1332.50 L1261.19,1330.82 L1265.61,1329.08 L1270.03,1327.28 L1274.45,1325.44 L1278.87,1323.54 L1283.29,1321.58 L1287.70,1319.58 L1292.12,1317.52 L1296.54,1315.40 L1300.96,1313.23 L1305.38,1311.01 L1309.80,1308.74 L1314.22,1306.41 L1318.64,1304.02 L1323.05,1301.59 L1327.47,1299.09 L1331.89,1296.55 L1336.31,1293.95 L1340.73,1291.30 L1345.15,1288.59 L1349.57,1285.82 L1353.99,1283.01 L1358.40,1280.14 L1362.82,1277.21 L1367.24,1274.23 L1371.66,1271.20 L1376.08,1268.11 L1380.50,1264.96 L1384.92,1261.76 L1389.34,1258.51 L1393.75,1255.20 L1398.17,1251.84 L1402.59,1248.42 L1407.01,1244.94 L1411.43,1241.41 L1415.85,1237.83 L1420.27,1234.19 L1424.69,1230.49 L1429.10,1226.74 L1433.52,1222.93 L1437.94,1219.07 L1442.36,1215.15 L1446.78,1211.18 L1451.20,1207.15 L1455.62,1203.06 L1460.04,1198.92 L1464.45,1194.72 L1468.87,1190.46 L1473.29,1186.15 L1477.71,1181.78 L1482.13,1177.36 L1486.55,1172.87 L1490.97,1168.33 L1495.38,1163.74 L1499.80,1159.09 L1504.22,1154.38 L1508.64,1149.61 L1513.06,1144.78 L1517.48,1139.90 L1521.90,1134.96 L1526.32,1129.97 L1530.73,1124.91 L1535.15,1119.80 L1539.57,1114.63 L1543.99,1109.40 L1548.41,1104.11 L1552.83,1098.77 L1557.25,1093.36 L1561.67,1087.90 L1566.08,1082.38 L1570.50,1076.80 L1574.92,1071.16 L1579.34,1065.46 L1583.76,1059.71 L1588.18,1053.89 L1592.60,1048.01 L1597.02,1042.08 L1601.43,1036.08 L1605.85,1030.03 L1610.27,1023.91 L1614.69,1017.73 L1619.11,1011.50 L1623.53,1005.20 L1627.95,998.84 L1632.37,992.42 L1636.78,985.94 L1641.20,979.40 L1645.62,972.80 L1650.04,966.13 L1654.46,959.41 L1658.88,952.62 L1663.30,945.77 L1667.72,938.85 L1672.13,931.87 L1676.55,924.83 L1680.97,917.73 L1685.39,910.56 L1689.81,903.33 L1694.23,896.03 L1698.65,888.67 L1703.07,881.25 L1707.48,873.76 L1711.90,866.20 L1716.32,858.58 L1720.74,850.90 L1725.16,843.14 L1729.58,835.32 L1734.00,827.44 L1738.42,819.48 L1742.83,811.46 L1747.25,803.37 L1751.67,795.21 L1756.09,786.98 L1760.51,778.68 L1764.93,770.31 L1769.35,761.87 L1773.77,753.36 L1778.18,744.78 L1782.60,736.13 L1787.02,727.41 L1791.44,718.61 L1795.86,709.74 L1800.28,700.79 L1804.70,691.77 L1809.12,682.67 L1813.53,673.50 L1817.95,664.25 L1822.37,654.93 L1826.79,645.52 L1831.21,636.04 L1835.63,626.48 L1840.05,616.83 L1844.47,607.11 L1848.88,597.31 L1853.30,587.42 L1857.72,577.45 L1862.14,567.39 L1866.56,557.25 L1870.98,547.02 L1875.40,536.71 L1879.82,526.31 L1884.23,515.82 L1888.65,505.23 L1893.07,494.56 L1897.49,483.80 L1901.91,472.94 L1906.33,461.98 L1910.75,450.93 L1915.17,439.79 L1919.58,428.54 L1924.00,417.20 L1928.42,405.75 L1932.84,394.21 L1937.26,382.56 L1941.68,370.80 L1946.10,358.94 L1950.52,346.96 L1954.93,334.88 L1959.35,322.69 L1963.77,310.39 L1968.19,297.97 L1972.61,285.43 L1977.03,272.77 L1981.45,260.00 L1985.87,247.10 L1990.28,234.08 L1994.70,220.94 L1999.12,207.66 L2003.54,194.26 L2007.96,180.72 L2012.38,167.05" stroke="#ff0000" stroke-width="11.5" stroke-linecap="round" stroke-dasharray="38 50.31" stroke-dashoffset="-0.7"/>
</g>
<line x1="429.5" y1="251.4" x2="583.5" y2="251.4" stroke="#0000ff" stroke-width="11" stroke-linecap="round"/>
<line x1="429.5" y1="336.3" x2="583.5" y2="336.3" stroke="#ff0000" stroke-width="11" stroke-linecap="round" stroke-dasharray="38 50.31"/>
<line x1="429.5" y1="421.4" x2="583.5" y2="421.4" stroke="#00ff00" stroke-width="11" stroke-linecap="round"/>
<line x1="429.5" y1="506.0" x2="583.5" y2="506.0" stroke="#d5aefb" stroke-width="8" stroke-linecap="round"/>
<text transform="translate(600,274.2) scale(1,1.047)" font-family="Liberation Serif, Times New Roman, serif" font-size="66" letter-spacing="0.5">Target curve</text>
<text transform="translate(600,359.1) scale(1,1.047)" font-family="Liberation Serif, Times New Roman, serif" font-size="66" letter-spacing="0">Actual trajectory of the tugboat</text>
<text transform="translate(600,443.8) scale(1,1.047)" font-family="Liberation Serif, Times New Roman, serif" font-size="66" letter-spacing="0">Actual trajectory of the towed ship with</text>
<text transform="translate(600,528.6) scale(1,1.047)" font-family="Liberation Serif, Times New Roman, serif" font-size="66" letter-spacing="0">Actual trajectory of the towed ship with</text>
<text transform="translate(1693.55,433.80) scale(1.074,1.0)" font-family="Noto Serif CJK SC, Liberation Serif, serif" font-weight="600" font-size="56.4">μ</text>
<text transform="translate(1727.65,442.9) scale(0.97,1.058)" font-family="Liberation Serif, Times New Roman, serif" font-size="67">=</text>
<text transform="translate(1760.85,442.9) scale(0.97,1.058)" font-family="Liberation Serif, Times New Roman, serif" font-size="67">−</text>
<text transform="translate(1795.30,442.9) scale(0.97,1.058)" font-family="Liberation Serif, Times New Roman, serif" font-size="67">2</text>
<text transform="translate(1828.20,442.9) scale(0.97,1.058)" font-family="Liberation Serif, Times New Roman, serif" font-size="67">0</text>
<text transform="translate(1693.55,518.80) scale(1.074,1.0)" font-family="Noto Serif CJK SC, Liberation Serif, serif" font-weight="600" font-size="56.4">μ</text>
<text transform="translate(1727.65,527.9) scale(0.97,1.058)" font-family="Liberation Serif, Times New Roman, serif" font-size="67">=</text>
<text transform="translate(1760.85,527.9) scale(0.97,1.058)" font-family="Liberation Serif, Times New Roman, serif" font-size="67">−</text>
<text transform="translate(1795.85,527.9) scale(0.97,1.058)" font-family="Liberation Serif, Times New Roman, serif" font-size="67">1</text>
<text transform="translate(1828.20,527.9) scale(0.97,1.058)" font-family="Liberation Serif, Times New Roman, serif" font-size="67">6</text>
</svg></body></html>
